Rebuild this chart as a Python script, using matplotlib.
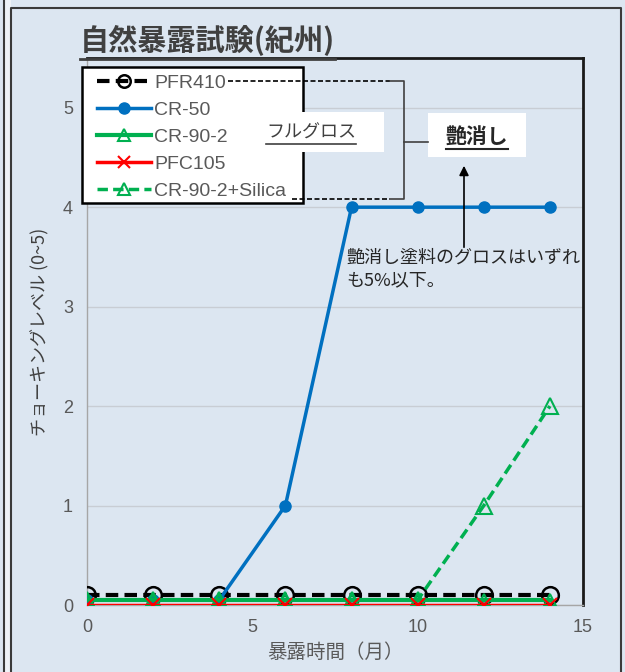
import matplotlib
matplotlib.use('Agg')
import matplotlib.pyplot as plt
from matplotlib.lines import Line2D
from matplotlib.patches import Rectangle, FancyArrowPatch

plt.rcParams['font.family'] = ['Noto Sans CJK JP', 'DejaVu Sans']

# data
months = [0, 2, 4, 6, 8, 10, 12, 14]
pfr410 = [0.1, 0.1, 0.1, 0.1, 0.1, 0.1, 0.1, 0.1]
cr50 = [0.05, 0.05, 0.05, 1, 4, 4, 4, 4]
cr90_2 = [0.05, 0.05, 0.05, 0.05, 0.05, 0.05, 0.05, 0.05]
pfc105 = [0, 0, 0, 0, 0, 0, 0, 0]
cr90_silica = [0.05, 0.05, 0.05, 0.05, 0.05, 0.05, 1, 2]

title = '自然暴露試験(紀州)'
xlabel = '暴露時間（月）'
ylabel = 'チョーキングレベル (0~5)'
note = '艶消し塗料のグロスはいずれ\nも5%以下。'

W, H = 625, 672
BG = '#dce6f1'
GRAY = '#595959'

fig = plt.figure(figsize=(W / 100, H / 100), dpi=100, facecolor=BG)

def fx(px):
    return px / W

def fy(py):
    return 1 - py / H

def fline(xs, ys, **kw):
    fig.add_artist(Line2D([fx(v) for v in xs], [fy(v) for v in ys],
                          transform=fig.transFigure, **kw))

# outer frame like the slide border
fig.add_artist(Rectangle((fx(3), 0), fx(8), 1, transform=fig.transFigure,
                         facecolor='#eef2f7', edgecolor='none'))
fline([3.5, 3.5], [0, H], color='#3a3a3a', lw=1.5)
fline([11, 11, 621, 621], [H, 8, 8, H], color='#3a3a3a', lw=1.5)

ax = fig.add_axes([fx(87), fy(605), fx(583) - fx(87), fy(58) - fy(605)])
ax.set_facecolor(BG)

ax.plot(months, pfr410, color='black', lw=3, ls=(0, (3, 1.5)), marker='o',
        ms=12, mfc='none', mec='black', mew=1.8, label='PFR410', zorder=3)
ax.plot(months, cr50, color='#0070c0', lw=2.5, marker='o', ms=8,
        label='CR-50', zorder=4)
ax.plot(months, cr90_2, color='#00b050', lw=3, marker='^', ms=9,
        mfc='none', mew=1.5, label='CR-90-2', zorder=5)
ax.plot(months, pfc105, color='#ff0000', lw=2.5, marker='x', ms=10,
        mew=1.5, label='PFC105', zorder=6)
ax.plot(months, cr90_silica, color='#00b050', lw=2.5, ls=(0, (3, 1.5)),
        marker='^', ms=12, mfc='none', mew=1.5, label='CR-90-2+Silica',
        zorder=5)

ax.set_xlim(0, 15)
ax.set_ylim(0, 5.5)
ax.set_xticks([0, 5, 10, 15])
ax.set_yticks([0, 1, 2, 3, 4, 5])
ax.grid(axis='y', color='#c8cdd4', lw=1)
ax.set_axisbelow(True)
for side in ['left', 'bottom']:
    ax.spines[side].set_color('#a6a6a6')
    ax.spines[side].set_linewidth(1)
for side in ['top', 'right']:
    ax.spines[side].set_color('#1a1a1a')
    ax.spines[side].set_linewidth(2)
ax.tick_params(length=0, labelsize=13, labelcolor=GRAY, pad=10)
for lab in ax.get_xticklabels() + ax.get_yticklabels():
    lab.set_family('Liberation Sans')
ax.set_xlabel(xlabel, fontsize=14, color=GRAY, labelpad=4)
ax.set_ylabel(ylabel, fontsize=13, color='#404040', labelpad=10)

# legend: white box drawn separately, entries placed on top
fig.add_artist(Rectangle((fx(82), fy(203)), fx(303) - fx(82),
                         fy(67) - fy(203), transform=fig.transFigure,
                         facecolor='white', edgecolor='black', lw=1.8,
                         zorder=4))
handles, labels = ax.get_legend_handles_labels()
leg = fig.legend(handles, labels, loc='upper left',
                 bbox_to_anchor=(fx(97), fy(74)),
                 bbox_transform=fig.transFigure, borderaxespad=0,
                 frameon=False, borderpad=0,
                 prop={'family': 'Liberation Sans', 'size': 14},
                 handlelength=2.8, handletextpad=0.15, labelspacing=0.49)
leg.set_zorder(5)
for t in leg.get_texts():
    t.set_color(GRAY)
for h, ms in zip(leg.legend_handles, [9, 8, 8, 8, 8]):
    h.set_markersize(ms)

# title
ttl = fig.text(fx(80), fy(40), title, fontsize=21, fontweight='bold',
               color='#404040', va='center', ha='left')

# label boxes
fig.add_artist(Rectangle((fx(266), fy(152)), fx(384) - fx(266),
                         fy(112) - fy(152), transform=fig.transFigure,
                         facecolor='white', edgecolor='none', zorder=5))
fig.add_artist(Rectangle((fx(428), fy(157)), fx(526) - fx(428),
                         fy(113) - fy(157), transform=fig.transFigure,
                         facecolor='white', edgecolor='none', zorder=5))
t_full = fig.text(fx(266), fy(133), 'フルグロス', fontsize=13, color='#404040',
                  va='center', ha='left', zorder=6)
t_mat = fig.text(fx(477), fy(136), '艶消し', fontsize=15, fontweight='bold',
                 color='#262626', va='center', ha='center', zorder=6)

# bracket from the legend entries
fline([228, 390], [81, 81], color='black', lw=1.2, ls=(0, (3, 1.5)), zorder=6)
fline([292, 390], [199, 199], color='black', lw=1.2, ls=(0, (3, 1.5)), zorder=6)
fline([390, 404, 404, 390], [81, 81, 199, 199], color='#404040', lw=1.2, zorder=6)
fline([404, 428], [142, 142], color='#404040', lw=1.2, zorder=6)

# arrow to 艶消し
fig.add_artist(FancyArrowPatch((fx(464), fy(250)), (fx(464), fy(163)),
                               transform=fig.transFigure, arrowstyle='-|>',
                               mutation_scale=14, color='black', lw=1.2,
                               zorder=6))
fig.text(fx(346), fy(269), note, fontsize=13, color='#262626', va='center',
         ha='left', linespacing=1.3)

# underlines
fig.canvas.draw()
r = fig.canvas.get_renderer()
for t, off, lw in [(ttl, 3, 2), (t_full, 2, 1.2), (t_mat, 2, 1.5)]:
    bb = t.get_window_extent(r)
    fig.add_artist(Line2D([bb.x0 / W, bb.x1 / W], [(bb.y0 - off) / H] * 2,
                          transform=fig.transFigure, color=t.get_color(),
                          lw=lw, zorder=7))

fig.savefig('out.png', dpi=100, facecolor=BG)
